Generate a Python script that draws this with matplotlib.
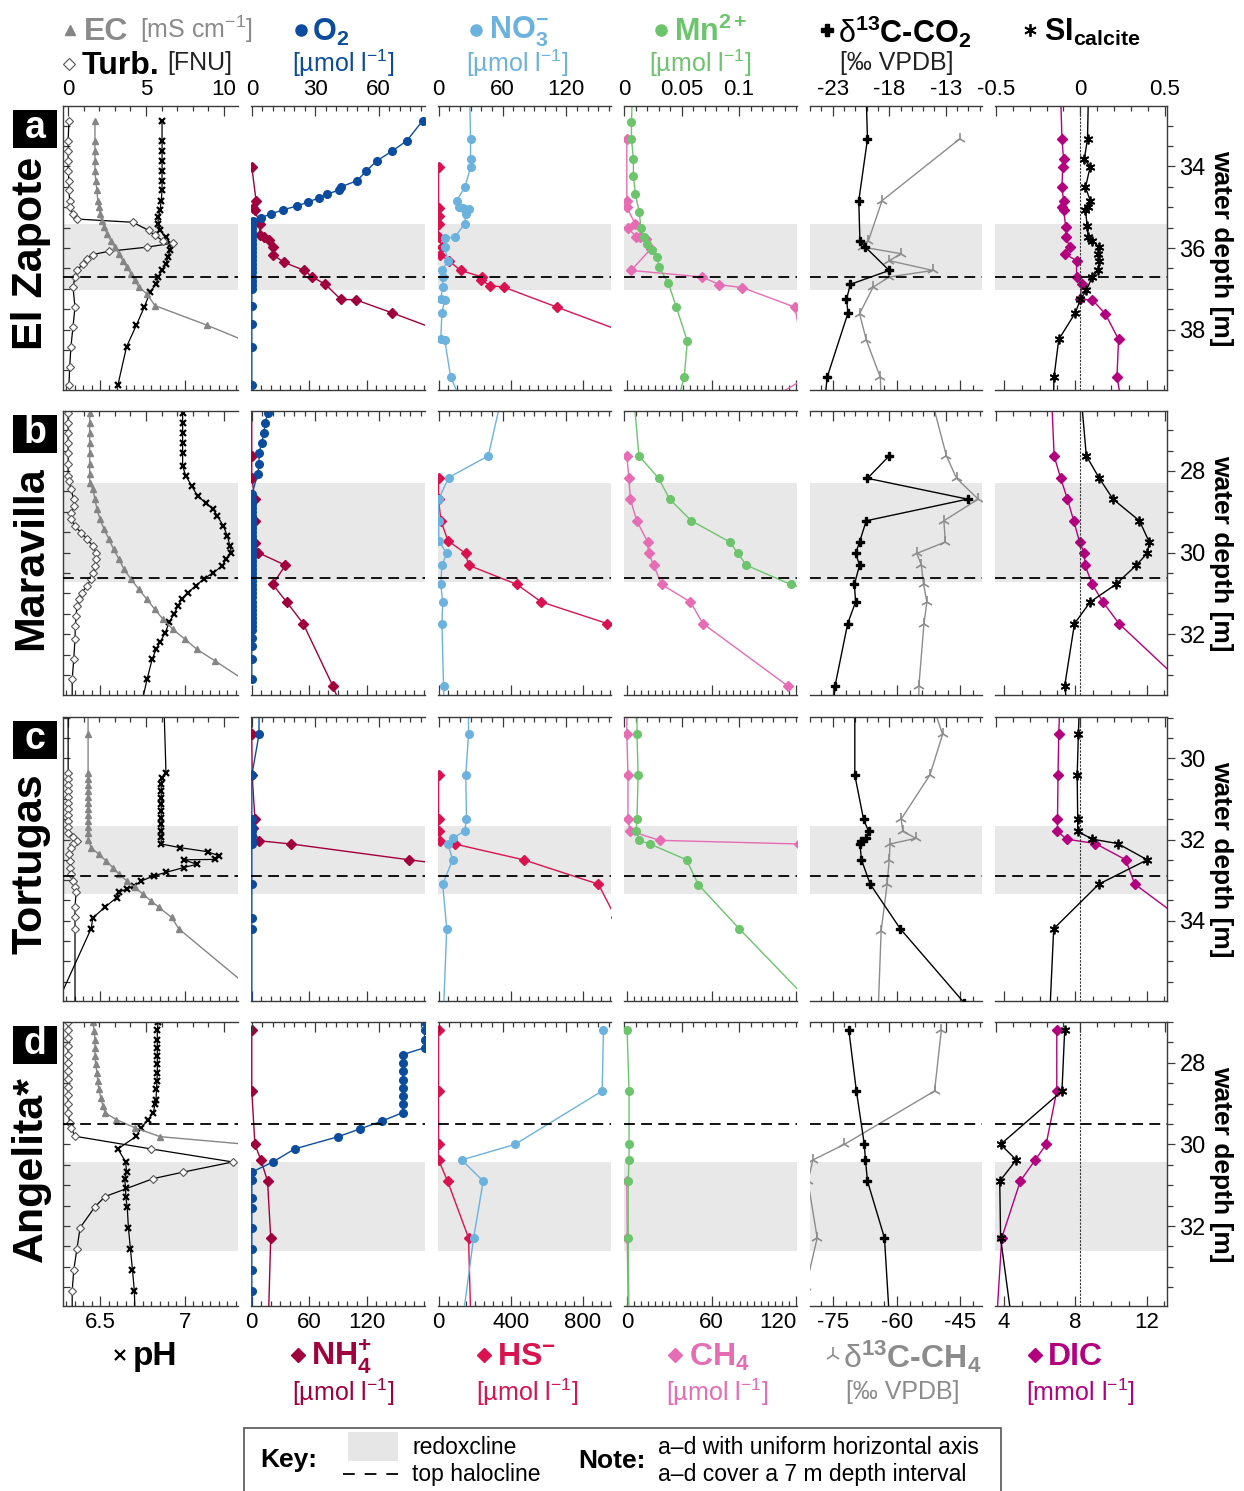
import matplotlib
matplotlib.use("Agg")
import matplotlib.pyplot as plt
from matplotlib.lines import Line2D
from matplotlib.patches import Rectangle
from matplotlib.ticker import MultipleLocator, FixedLocator, FuncFormatter

plt.rcParams['font.family'] = ['Liberation Sans', 'DejaVu Sans']
plt.rcParams['mathtext.fontset'] = 'custom'
plt.rcParams['mathtext.rm'] = 'Liberation Sans'
plt.rcParams['mathtext.bf'] = 'Liberation Sans:bold'
plt.rcParams['mathtext.it'] = 'Liberation Sans:italic'
plt.rcParams['axes.unicode_minus'] = False

W, H = 1244, 1491

# ---------------- data: (depth [m], value) ----------------
# a) El Zapote
a_turb = [(32.88,0.05),(33.37,0),(33.62,0),(33.86,0),(34.11,0),(34.35,0.05),(34.59,0.05),(34.84,0.1),(35.0,0.1),
          (35.16,0.31),(35.29,0.56),(35.37,4.15),(35.57,5.18),(35.69,5.56),(35.82,6.08),(35.88,6.72),(35.98,5.05),
          (36.08,2.62),(36.16,1.59),(36.26,1.2),(36.39,0.95),(36.55,0.56),(36.71,0.44),(36.96,0.31),(37.45,0.44),
          (37.93,0.31),(38.42,0.18),(38.91,0.1),(39.36,0.05)]
a_ec = [(32.88,1.72),(33.37,1.72),(33.62,1.72),(33.86,1.72),(34.11,1.72),(34.35,1.77),(34.59,1.85),(34.84,1.9),
        (35.0,1.97),(35.16,2.05),(35.33,2.15),(35.49,2.31),(35.65,2.49),(35.82,2.74),(35.98,3.0),(36.14,3.26),
        (36.31,3.51),(36.47,3.77),(36.63,4.03),(36.79,4.28),(36.96,4.54),(37.12,5.05),(37.41,5.56),(37.89,8.9),(38.3,11.5)]
a_ph = [(32.88,6.865),(33.37,6.865),(33.62,6.865),(33.86,6.865),(34.11,6.865),(34.35,6.865),(34.59,6.865),(34.84,6.86),
        (35.08,6.853),(35.25,6.842),(35.41,6.842),(35.57,6.853),(35.74,6.888),(35.9,6.916),(36.06,6.912),(36.22,6.9),
        (36.39,6.888),(36.55,6.865),(36.71,6.842),(36.88,6.83),(37.08,6.795),(37.45,6.76),(37.89,6.714),(38.42,6.656),(39.36,6.605)]
a_o2 = [(32.88,80.9),(33.37,73.4),(33.62,66.6),(33.86,59.3),(34.12,54.0),(34.35,49.9),(34.5,42.2),(34.58,41.1),(34.68,35.8),
        (34.77,31.7),(34.88,26.5),(34.97,21.2),(35.07,14.6),(35.16,9.2),(35.26,4.3),(35.34,0.6),(35.4,0),(35.5,0),(35.6,0),
        (35.7,0),(35.8,0),(35.9,0),(36.0,0),(36.1,0),(36.2,0),(36.3,0),(36.4,0),(36.5,0),(36.6,0),(36.7,0),(36.8,0),(36.9,0),
        (37.0,0),(37.41,0),(37.87,0),(38.42,0),(39.36,0)]
a_nh4 = [(34.01,0),(34.84,4.5),(35.02,1.2),(35.08,3.3),(35.41,8.3),(35.69,8.3),(35.74,12.8),(35.8,17.8),(35.98,22.7),
         (36.16,21.9),(36.35,33.5),(36.55,55),(36.71,63.2),(36.89,76.9),(37.26,93),(37.27,108.7),(37.59,146.7),(38.2,216)]
a_no3 = [(32.2,29.0),(33.33,29.9),(33.82,29.9),(34.02,29.9),(34.51,24.6),(34.84,16.8),(35.0,18.7),(35.02,22.4),(35.04,28.0),
         (35.16,25.4),(35.41,24.3),(35.74,14.9),(35.75,5.6),(35.98,5.6),(36.31,8.6),(36.55,3.0),(36.71,3.7),(36.96,3.7),
         (37.26,1.9),(37.27,5.6),(37.59,3.0),(38.24,1.9),(38.25,5.6),(39.16,11.2),(39.8,22)]
a_hs = [(34.01,0),(35.02,0),(35.21,0),(35.41,0),(35.74,0),(35.98,19.6),(36.16,6.5),(36.31,56.6),(36.55,122),(36.71,242),
        (36.79,237),(36.92,285),(36.96,362),(37.45,656),(38.42,1244)]
a_mn = [(32.3,0.0069),(32.92,0.0062),(33.33,0.0062),(33.82,0.0079),(34.23,0.0079),(34.68,0.0096),(35.12,0.013),(35.51,0.0144),
        (35.74,0.0172),(35.9,0.0199),(36.06,0.024),(36.22,0.0285),(36.47,0.0302),(36.86,0.0384),(37.45,0.0453),(38.28,0.0549),
        (39.16,0.0522),(39.8,0.046)]
a_ch4 = [(33.33,0),(34.84,0),(35.0,0),(35.41,5.9),(35.51,1.0),(35.72,6.4),(35.74,9.2),(35.78,13.4),(36.02,17.0),(36.55,3.1),
         (36.71,53.4),(36.9,65.6),(36.97,81.8),(37.45,119),(39.16,128),(39.73,100)]
a_co2 = [(32.3,-20.03),(33.33,-19.92),(34.84,-20.69),(35.82,-20.59),(35.98,-20.1),(36.55,-18.0),(36.89,-21.43),(37.26,-21.78),
         (37.59,-21.64),(39.17,-23.49),(39.8,-23.7)]
a_dch4 = [(33.33,-45.2),(34.84,-63.5),(35.82,-66.7),(35.98,-67.9),(36.14,-59.0),(36.31,-61.8),(36.55,-51.5),(36.71,-61.8),
          (36.96,-65.6),(37.61,-68.8),(38.26,-67.2),(39.17,-63.9),(39.8,-63.7)]
a_si = [(32.3,0.047),(33.33,0.042),(33.82,0.023),(34.01,0.058),(34.51,0.03),(34.84,0.058),(35.0,0.042),(35.08,0.03),(35.45,0.04),
        (35.74,0.047),(35.82,0.07),(35.98,0.112),(36.14,0.105),(36.31,0.112),(36.55,0.105),(36.71,0.07),(37.04,0.035),(37.26,0.0),
        (37.59,-0.03),(38.24,-0.128),(39.16,-0.156),(39.8,-0.16)]
a_dic = [(32.3,7.18),(33.33,7.25),(33.82,7.34),(34.01,7.29),(34.51,7.25),(34.84,7.34),(35.0,7.25),(35.08,7.34),(35.49,7.47),
         (35.74,7.47),(35.98,7.69),(36.14,7.4),(36.31,8.07),(36.71,8.07),(36.88,8.35),(37.26,8.29),(37.27,8.95),(37.61,9.68),
         (38.24,10.43),(39.16,10.34),(39.8,10.6)]

# b) Maravilla
b_turb = [(26.57,0),(26.82,0),(27.06,0),(27.31,0),(27.55,0),(27.84,0),(28.12,0),(28.24,0.05),(28.45,0.18),(28.69,0.36),
          (28.86,0.36),(29.02,0.18),(29.18,0.18),(29.35,0.44),(29.51,0.82),(29.67,1.21),(29.84,1.59),(30.0,1.79),(30.16,1.79),
          (30.33,1.72),(30.49,1.59),(30.65,1.46),(30.82,1.21),(30.98,0.87),(31.14,0.69),(31.31,0.56),(31.55,0.51),(31.8,0.46),
          (32.12,0.44),(32.61,0.36),(33.1,0.26),(33.7,0.26)]
b_ec = [(26.57,1.38),(26.82,1.38),(27.06,1.38),(27.31,1.38),(27.55,1.38),(27.84,1.38),(28.08,1.38),(28.29,1.38),(28.45,1.59),
        (28.69,1.72),(28.94,1.85),(29.18,2.05),(29.43,2.31),(29.67,2.62),(29.92,2.92),(30.16,3.26),(30.41,3.59),(30.65,4.03),
        (30.9,4.54),(31.14,5.05),(31.39,5.56),(31.63,6.08),(31.88,6.72),(32.12,7.49),(32.37,8.26),(32.65,9.41),(33.3,12.0)]
b_ph = [(26.57,6.986),(26.82,6.986),(27.06,6.986),(27.31,6.986),(27.55,6.986),(27.88,6.986),(28.12,7.005),(28.37,7.04),
        (28.61,7.074),(28.78,7.121),(28.94,7.167),(29.1,7.19),(29.35,7.226),(29.59,7.249),(29.84,7.265),(30.0,7.272),
        (30.16,7.242),(30.33,7.219),(30.49,7.167),(30.65,7.109),(30.82,7.063),(30.98,7.016),(31.14,6.981),(31.31,6.958),
        (31.51,6.935),(31.71,6.907),(31.96,6.884),(32.2,6.853),(32.37,6.83),(32.61,6.807),(33.1,6.777),(33.7,6.745)]
b_o2 = [(26.57,7.7),(26.82,6.2),(27.06,5.8),(27.31,4.7),(27.55,3.4),(27.84,3.4),(28.08,2.8),(28.57,0),(28.7,0),(28.8,0),
        (28.9,0),(29.0,0),(29.1,0),(29.2,0),(29.3,0),(29.4,0),(29.5,0),(29.6,0),(29.7,0),(29.8,0),(29.9,0),(30.0,0),(30.1,0),
        (30.2,0),(30.3,0),(30.4,0),(30.5,0),(30.6,0),(30.7,0),(30.8,0),(30.9,0),(31.0,0),(31.1,0),(31.2,0),(31.3,0),(31.4,0),
        (31.5,0),(31.6,0),(31.7,0),(31.8,0),(31.9,0),(32.1,0),(32.3,0),(32.6,0),(33.1,0)]
b_nh4 = [(26.3,0),(27.63,0),(28.16,0),(28.69,3.3),(29.22,3.3),(29.76,3.3),(30.0,6.6),(30.31,35.1),(30.78,21.9),(31.21,36.4),
         (31.74,53.7),(33.27,84.7),(33.7,92)]
b_no3 = [(26.2,59),(27.63,46.6),(28.16,9.3),(28.69,0),(29.22,0),(29.71,0),(30.02,7.5),(30.31,3.0),(30.78,1.9),(31.21,3.7),
         (31.74,3.0),(33.27,4.5),(33.7,5.0)]
b_hs = [(28.16,0),(28.69,0),(29.22,13),(29.71,52),(30.02,150),(30.31,166),(30.78,434),(31.21,569),(31.74,935)]
b_mn = [(26.2,0.0083),(27.63,0.0127),(28.18,0.0299),(28.69,0.0395),(29.22,0.0584),(29.74,0.092),(30.02,0.0989),(30.31,0.1064),
        (30.78,0.1449),(30.9,0.16)]
b_ch4 = [(27.63,0),(28.18,1.5),(28.69,2.5),(29.22,7.0),(29.74,14.8),(30.02,15.4),(30.31,19.0),(30.78,24.6),(31.21,45.0),
         (31.74,53.9),(33.27,114)]
b_co2 = [(27.63,-18.0),(28.18,-19.92),(28.69,-11.08),(29.22,-20.03),(29.74,-20.62),(30.02,-20.97),(30.31,-20.62),(30.78,-21.08),
         (31.21,-20.97),(31.74,-21.67),(33.27,-22.79),(33.7,-22.9)]
b_dch4 = [(26.24,-51.8),(27.63,-48.3),(28.18,-45.9),(28.69,-40.8),(29.22,-48.9),(29.74,-48.55),(30.02,-55.3),(30.31,-54.2),
          (30.78,-53.7),(31.21,-52.9),(31.74,-53.6),(33.27,-54.8),(33.7,-54.8)]
b_si = [(26.2,0.005),(27.63,0.035),(28.18,0.112),(28.69,0.193),(29.22,0.349),(29.74,0.407),(30.02,0.395),(30.31,0.33),
        (30.78,0.209),(31.21,0.058),(31.74,-0.035),(33.27,-0.093),(33.7,-0.08)]
b_dic = [(26.2,6.67),(27.63,6.81),(28.18,7.18),(28.69,7.56),(29.22,7.91),(29.74,8.24),(30.02,8.51),(30.31,8.55),(30.78,8.95),
         (31.21,9.55),(31.74,10.45),(33.4,14.5)]

# c) Tortugas
c_turb = [(28.8,0),(30.35,0),(30.5,0),(30.65,0),(30.8,0),(30.95,0),(31.1,0),(31.25,0),(31.4,0),(31.55,0),(31.7,0),(31.85,0),
          (31.95,0.3),(32.03,0.56),(32.11,0.3),(32.2,0.18),(32.36,0.05),(32.52,0.1),(32.69,0.1),(32.85,0.18),(33.02,0.31),
          (33.18,0.44),(33.3,0.51),(33.67,0.44),(33.92,0.44),(34.2,0.44),(36.2,0.44)]
c_ec = [(28.8,1.28),(29.41,1.28),(30.35,1.28),(30.5,1.28),(30.65,1.28),(30.8,1.28),(30.95,1.28),(31.1,1.28),(31.25,1.28),
        (31.4,1.28),(31.55,1.28),(31.7,1.28),(31.85,1.28),(32.0,1.3),(32.2,1.46),(32.36,1.97),(32.52,2.41),(32.69,2.87),
        (32.85,3.26),(33.02,3.77),(33.18,4.28),(33.34,4.79),(33.51,5.31),(33.67,5.82),(33.92,6.64),(34.2,7.1),(35.7,11.8)]
c_ph = [(28.8,6.877),(30.35,6.888),(30.48,6.865),(30.64,6.86),(30.8,6.86),(30.97,6.86),(31.13,6.86),(31.3,6.86),(31.46,6.86),
        (31.62,6.86),(31.79,6.86),(31.95,6.86),(32.11,6.86),(32.2,6.97),(32.3,7.133),(32.4,7.198),(32.49,7.179),(32.5,6.993),
        (32.61,7.07),(32.69,6.993),(32.81,6.888),(32.89,6.819),(33.02,6.744),(33.14,6.702),(33.22,6.656),(33.3,6.609),
        (33.43,6.598),(33.67,6.528),(33.93,6.458),(34.2,6.447),(36.2,6.23)]
c_o2 = [(28.8,3.4),(29.41,3.4),(30.41,0),(31.5,0),(31.69,0),(31.8,0),(31.91,0),(32.03,0),(32.11,0),(33.1,0),(33.93,0),(34.2,0),(36.2,0)]
c_nh4 = [(28.8,0),(29.41,0),(30.41,0.4),(31.5,3.3),(31.72,1.2),(32.03,7.4),(32.11,41.3),(32.5,164.5),(32.65,215)]
c_no3 = [(28.8,28),(29.41,28),(30.41,25.4),(31.5,26.1),(31.79,24.3),(31.97,13.1),(32.11,8.6),(32.5,13.1),(33.1,3.7),(34.2,7.5),(36.2,4.5)]
c_hs = [(30.41,0),(31.5,0),(31.79,0),(32.03,6.5),(32.11,89),(32.5,471),(33.1,885),(33.92,980)]
c_mn = [(28.8,0.011),(29.39,0.011),(30.41,0.012),(31.5,0.011),(31.79,0.0103),(32.02,0.013),(32.11,0.0223),(32.5,0.0542),
        (33.11,0.0645),(34.2,0.1002),(36.1,0.165)]
c_ch4 = [(28.8,0),(29.39,0),(30.41,0.8),(31.5,0.8),(31.79,2.2),(32.02,23.2),(32.11,122)]
c_co2 = [(28.8,-21.04),(30.41,-21.04),(31.5,-20.27),(31.8,-19.82),(31.97,-20.03),(32.03,-20.45),(32.11,-20.59),(32.5,-20.45),
         (33.1,-19.68),(34.2,-17.02),(36.03,-11.36)]
c_dch4 = [(28.6,-51.8),(29.41,-49.2),(30.41,-52.2),(31.5,-59.0),(31.8,-58.55),(31.97,-55.5),(32.11,-61.6),(32.5,-61.8),
          (33.1,-62.3),(34.25,-63.7),(36.2,-64.4)]
c_si = [(28.8,-0.007),(29.41,-0.012),(30.41,-0.019),(31.5,-0.016),(31.8,-0.016),(31.99,0.07),(32.1,0.221),(32.5,0.395),
        (33.1,0.109),(34.2,-0.158),(36.2,-0.18)]
c_dic = [(28.8,7.12),(29.41,7.07),(30.41,7.03),(31.5,7.0),(31.8,7.0),(31.99,7.51),(32.1,9.13),(32.5,10.83),(33.1,11.34),(34.0,14.1)]

# d) Angelita*
d_turb = [(27.0,0),(27.2,0),(27.4,0),(27.6,0),(27.8,0),(28.0,0),(28.2,0),(28.4,0),(28.6,0),(28.8,0),(29.0,0),(29.22,0),
          (29.47,0.1),(29.59,0.18),(29.8,0.44),(30.11,5.31),(30.43,10.56),(30.68,7.36),(30.84,5.44),(31.28,2.36),(31.53,1.72),
          (32.04,0.77),(32.57,0.56),(33.08,0.36),(33.59,0.26),(34.2,0.26)]
d_ec = [(27.0,1.59),(27.22,1.67),(27.43,1.72),(27.63,1.72),(27.84,1.72),(28.04,1.77),(28.24,1.85),(28.45,1.9),(28.65,1.97),
        (28.86,2.1),(29.06,2.23),(29.22,2.36),(29.39,3.08),(29.59,4.28),(29.81,5.9),(30.05,13.0)]
d_ph = [(27.0,6.842),(27.2,6.837),(27.43,6.837),(27.63,6.837),(27.84,6.837),(28.04,6.837),(28.24,6.837),(28.45,6.835),
        (28.65,6.832),(28.9,6.83),(29.02,6.823),(29.22,6.814),(29.39,6.784),(29.59,6.742),(29.8,6.714),(30.11,6.605),
        (30.43,6.651),(30.68,6.656),(30.84,6.644),(31.06,6.651),(31.28,6.651),(31.53,6.66),(32.04,6.667),(32.57,6.679),
        (33.08,6.691),(33.59,6.702),(34.2,6.706)]
d_o2 = [(27.0,81.8),(27.2,81.8),(27.43,81.8),(27.63,81.8),(27.8,71.5),(28.0,71.5),(28.2,71.5),(28.41,71.5),(28.61,71.5),
        (28.82,71.5),(29.02,71.5),(29.22,71.5),(29.43,61.5),(29.62,51.2),(29.81,40.9),(30.11,20.3),(30.43,9.9),(30.68,0),
        (30.86,0),(31.31,0),(31.55,0),(32.04,0),(32.57,0),(33.08,0),(33.59,0),(34.2,0)]
d_nh4 = [(27.2,0),(28.69,0),(30.0,3.3),(30.38,9.5),(30.9,16.5),(32.29,19.8),(34.2,17.5)]
d_no3 = [(27.2,154.9),(28.69,153.7),(30.0,71.6),(30.38,21.6),(30.9,41.8),(32.29,32.8),(34.2,23)]
d_hs = [(27.2,0),(28.69,0),(30.0,0),(30.38,0),(30.9,50),(32.29,166),(34.2,178)]
d_mn = [(27.2,0.0024),(28.69,0.0041),(30.0,0.0041),(30.38,0.0041),(30.9,0.0034),(32.29,0.0034),(34.2,0.004)]
d_ch4 = [(30.9,0),(32.29,0.3),(34.2,1.0)]
d_co2 = [(27.2,-21.57),(28.69,-20.9),(30.0,-20.2),(30.38,-20.1),(30.9,-19.92),(32.29,-18.42),(34.2,-18.0)]
d_dch4 = [(27.2,-49.5),(28.69,-51.1),(30.0,-72.4),(30.38,-79.8),(30.9,-81.0),(32.29,-78.8),(33.5,-81.5)]
d_si = [(27.2,-0.093),(28.69,-0.109),(30.0,-0.472),(30.38,-0.379),(30.9,-0.477),(32.29,-0.472),(34.2,-0.41)]
d_dic = [(27.2,6.96),(28.69,6.96),(30.0,6.36),(30.38,5.75),(30.9,4.91),(32.29,3.87),(34.2,3.6)]

sites = ["El Zapote", "Maravilla", "Tortugas", "Angelita*"]
letters = ["a", "b", "c", "d"]
depth_lims = [(39.48, 32.52), (33.49, 26.53), (35.98, 28.98), (33.96, 27.0)]
redoxcline = [(35.42, 37.04), (28.29, 30.72), (31.66, 33.34), (30.42, 32.61)]
halocline = [36.70, 30.63, 32.89, 29.49]

# ---------------- styles ----------------
C_O2, C_NO3, C_MN = '#0b4c9f', '#6cb2df', '#6cc46c'
C_NH4, C_HS, C_CH4, C_DIC = '#a0003c', '#d8134f', '#e66cb3', '#b3007e'
C_EC, C_DCH4 = '#858585', '#8c8c8c'

styles = {
    'turb': dict(color='black', marker='D', ms=3.6, mfc='white', mec='#555555', mew=0.8, lw=0.9),
    'ec': dict(color=C_EC, marker='^', ms=4.5, lw=1.0),
    'ph': dict(color='black', marker='x', ms=4.5, mew=1.6, lw=0.9),
    'o2': dict(color=C_O2, marker='o', ms=5.5, lw=1.0),
    'nh4': dict(color=C_NH4, marker='D', ms=5, lw=1.0),
    'no3': dict(color=C_NO3, marker='o', ms=5.5, lw=1.0),
    'hs': dict(color=C_HS, marker='D', ms=5, lw=1.0),
    'mn': dict(color=C_MN, marker='o', ms=5.5, lw=1.0),
    'ch4': dict(color=C_CH4, marker='D', ms=5, lw=1.0),
    'co2': dict(color='black', marker='P', ms=6, lw=1.0),
    'dch4': dict(color=C_DCH4, marker='2', ms=9, mew=1.2, lw=1.0),
    'si': dict(color='black', marker=(6, 2, 0), ms=7, mew=1.3, lw=1.0),
    'dic': dict(color=C_DIC, marker='D', ms=5, lw=1.0),
}

data = [
    dict(turb=a_turb, ec=a_ec, ph=a_ph, o2=a_o2, nh4=a_nh4, no3=a_no3, hs=a_hs, mn=a_mn, ch4=a_ch4, co2=a_co2, dch4=a_dch4, si=a_si, dic=a_dic),
    dict(turb=b_turb, ec=b_ec, ph=b_ph, o2=b_o2, nh4=b_nh4, no3=b_no3, hs=b_hs, mn=b_mn, ch4=b_ch4, co2=b_co2, dch4=b_dch4, si=b_si, dic=b_dic),
    dict(turb=c_turb, ec=c_ec, ph=c_ph, o2=c_o2, nh4=c_nh4, no3=c_no3, hs=c_hs, mn=c_mn, ch4=c_ch4, co2=c_co2, dch4=c_dch4, si=c_si, dic=c_dic),
    dict(turb=d_turb, ec=d_ec, ph=d_ph, o2=d_o2, nh4=d_nh4, no3=d_no3, hs=d_hs, mn=d_mn, ch4=d_ch4, co2=d_co2, dch4=d_dch4, si=d_si, dic=d_dic),
]

# column definitions: top scale, bottom scale
columns = [
    dict(x0=63, x1=238, top=['turb', 'ec'], tlim=(-0.33, 10.9), tmaj=[0, 5, 10], tmin=1,
         bot=['ph'], blim=(6.282, 7.312), bmaj=[6.5, 7.0], bmin=0.05),
    dict(x0=251, x1=425, top=['o2'], tlim=(-0.4, 82), tmaj=[0, 30, 60], tmin=5,
         bot=['nh4'], blim=(-0.8, 181), bmaj=[0, 60, 120], bmin=10),
    dict(x0=438, x1=611, top=['no3'], tlim=(-0.7, 162), tmaj=[0, 60, 120], tmin=10,
         bot=['hs'], blim=(-3, 955), bmaj=[0, 400, 800], bmin=50),
    dict(x0=624, x1=797, top=['mn'], tlim=(-0.0003, 0.1505), tmaj=[0, 0.05, 0.1], tmin=0.01,
         bot=['ch4'], blim=(-2, 120.5), bmaj=[0, 60, 120], bmin=5),
    dict(x0=810, x1=982, top=['co2'], tlim=(-25.0, -9.8), tmaj=[-23, -18, -13], tmin=1,
         bot=['dch4'], blim=(-80.5, -39.9), bmaj=[-75, -60, -45], bmin=3),
    dict(x0=995, x1=1167, top=['si'], tlim=(-0.505, 0.512), tmaj=[-0.5, 0, 0.5], tmin=0.1,
         bot=['dic'], blim=(3.49, 13.15), bmaj=[4, 8, 12], bmin=1),
]
row_y = [(106, 390), (411, 695), (717, 1001), (1022, 1306)]

fmt = FuncFormatter(lambda v, p: f"{v:g}")
SPINE = '#3a3a3a'

fig = plt.figure(figsize=(W / 100, H / 100), dpi=100)


def fx(x):
    return x / W


def fy(y):
    return 1 - y / H


def draw(ax, key, pts):
    d = [p[0] for p in pts]
    v = [p[1] for p in pts]
    ax.plot(v, d, **styles[key])


for r in range(4):
    y0, y1 = row_y[r]
    for c, col in enumerate(columns):
        ax = fig.add_axes([fx(col['x0']), fy(y1), (col['x1'] - col['x0']) / W, (y1 - y0) / H])
        ax.set_ylim(*depth_lims[r])
        ax.set_xlim(*col['blim'])
        ax.axhspan(*redoxcline[r], color='#e8e8e8', lw=0, zorder=0)
        for k in col['bot']:
            draw(ax, k, data[r][k])
        axt = ax.twiny()
        axt.set_xlim(*col['tlim'])
        for k in col['top']:
            draw(axt, k, data[r][k])
        axt.axhline(halocline[r], color='black', lw=1.3, dashes=(6, 3.5), zorder=6)
        if c == 5:
            axt.axvline(0, color='#333333', lw=0.8, ls=(0, (2, 1.2)), zorder=1)

        for a in (ax, axt):
            for s in a.spines.values():
                s.set_visible(False)
                s.set_color(SPINE)
                s.set_linewidth(1.0)
        ax.spines['bottom'].set_visible(True)
        axt.spines['top'].set_visible(True)
        if c == 0:
            ax.spines['left'].set_visible(True)
        if c == 5:
            ax.spines['right'].set_visible(True)

        ax.xaxis.set_major_locator(FixedLocator(col['bmaj']))
        ax.xaxis.set_minor_locator(MultipleLocator(col['bmin']))
        ax.xaxis.set_major_formatter(fmt)
        axt.xaxis.set_major_locator(FixedLocator(col['tmaj']))
        axt.xaxis.set_minor_locator(MultipleLocator(col['tmin']))
        axt.xaxis.set_major_formatter(fmt)
        ax.tick_params(axis='x', which='both', direction='in', bottom=True, top=False,
                       labelbottom=(r == 3), color=SPINE, width=0.9, labelsize=16, pad=4)
        ax.tick_params(axis='x', which='major', length=7)
        ax.tick_params(axis='x', which='minor', length=3.5)
        axt.tick_params(axis='x', which='both', direction='in', top=True, bottom=False,
                        labeltop=(r == 0), labelbottom=False, color=SPINE, width=0.9, labelsize=16, pad=4)
        axt.tick_params(axis='x', which='major', length=7)
        axt.tick_params(axis='x', which='minor', length=3.5)
        if r == 3 and c == 3:
            # last label of the CH4 axis sits left of its tick, as in the original
            ax.get_xticklabels()[-1].set_horizontalalignment('right')

        ax.yaxis.set_major_locator(MultipleLocator(2))
        ax.yaxis.set_minor_locator(MultipleLocator(0.5))
        if c == 0:
            ax.tick_params(axis='y', which='both', direction='in', left=True, right=False,
                           labelleft=False, color=SPINE, width=0.9, length=5)
        elif c == 5:
            ax.yaxis.set_major_formatter(fmt)
            ax.tick_params(axis='y', which='both', direction='out', left=False, right=True,
                           labelleft=False, labelright=True, color=SPINE, width=0.9, labelsize=17, pad=3)
            ax.tick_params(axis='y', which='major', length=6)
            ax.tick_params(axis='y', which='minor', length=4)
        else:
            ax.tick_params(axis='y', which='both', left=False, right=False, labelleft=False)

    # site label, letter box, depth label
    ymid = (y0 + y1) / 2
    fig.add_artist(Rectangle((fx(13), fy(y0 + 42)), 44 / W, 38 / H, transform=fig.transFigure,
                             facecolor='black', edgecolor='none'))
    fig.text(fx(35), fy(y0 + 22), letters[r], color='white', fontsize=27, fontweight='bold',
             ha='center', va='center')
    fig.text(fx(31), fy(ymid + 5), sites[r], rotation=90, fontsize=31, fontweight='bold',
             ha='center', va='center')
    fig.text(fx(1221), fy(ymid), "water depth [m]", rotation=270, fontsize=19, fontweight='bold',
             ha='center', va='center')


# ---------------- header / footer labels ----------------
def marker_at(x, y, key, ms=None):
    st = dict(styles[key])
    st.pop('lw', None)
    if ms is not None:
        st['ms'] = ms
    fig.add_artist(Line2D([fx(x)], [fy(y)], transform=fig.transFigure, linestyle='none', **st))


HB = 22   # bold name size
HU = 18   # unit size
T1, T2 = 32, 66

marker_at(70, T1 - 2, 'ec', ms=7)
fig.text(fx(84), fy(T1), "EC", color='#8a8a8a', fontsize=HB + 1, fontweight='bold', va='center')
fig.text(fx(140), fy(T1 - 3), r"[mS cm$^{-1}$]", color='#8a8a8a', fontsize=HU, va='center')
marker_at(69, T2 - 2, 'turb', ms=6.5)
fig.text(fx(82), fy(T2), "Turb.", color='black', fontsize=HB + 1, fontweight='bold', va='center')
fig.text(fx(167), fy(T2 - 3), "[FNU]", color='#222222', fontsize=HU, va='center')

marker_at(301, T1 - 2, 'o2', ms=8)
fig.text(fx(312), fy(T1), r"O$_\mathbf{2}$", color=C_O2, fontsize=HB, fontweight='bold', va='center')
fig.text(fx(343), fy(T2 - 3), r"[µmol l$^{-1}$]", color=C_O2, fontsize=HU, ha='center', va='center')

marker_at(476, T1 - 2, 'no3', ms=8)
fig.text(fx(489), fy(T1), r"NO$_\mathbf{3}^\mathbf{-}$", color=C_NO3, fontsize=HB, fontweight='bold', va='center')
fig.text(fx(517), fy(T2 - 3), r"[µmol l$^{-1}$]", color=C_NO3, fontsize=HU, ha='center', va='center')

marker_at(661, T1 - 2, 'mn', ms=8)
fig.text(fx(674), fy(T1), r"Mn$^\mathbf{2+}$", color=C_MN, fontsize=HB, fontweight='bold', va='center')
fig.text(fx(700), fy(T2 - 3), r"[µmol l$^{-1}$]", color=C_MN, fontsize=HU, ha='center', va='center')

marker_at(827, T1 - 2, 'co2', ms=8)
fig.text(fx(838), fy(T1), r"$\mathrm{\delta}^\mathbf{13}$C-CO$_\mathbf{2}$", color='black', fontsize=HB,
         fontweight='bold', va='center')
fig.text(fx(897), fy(T2 - 3), "[‰ VPDB]", color='#222222', fontsize=HU, ha='center', va='center')

marker_at(1030, T1 - 2, 'si', ms=9)
fig.text(fx(1044), fy(T1), r"SI$_\mathbf{calcite}$", color='black', fontsize=HB, fontweight='bold', va='center')

FY, UY = 1357, 1392
marker_at(120, FY - 2, 'ph', ms=7)
fig.text(fx(133), fy(FY), "pH", color='black', fontsize=HB + 2, fontweight='bold', va='center')

marker_at(298, FY - 2, 'nh4', ms=7)
fig.text(fx(311), fy(FY), r"NH$_\mathbf{4}^\mathbf{+}$", color=C_NH4, fontsize=HB + 1, fontweight='bold', va='center')
fig.text(fx(343), fy(UY), r"[µmol l$^{-1}$]", color=C_NH4, fontsize=HU, ha='center', va='center')

marker_at(484, FY - 2, 'hs', ms=7)
fig.text(fx(497), fy(FY), r"HS$^\mathbf{-}$", color=C_HS, fontsize=HB + 1, fontweight='bold', va='center')
fig.text(fx(527), fy(UY), r"[µmol l$^{-1}$]", color=C_HS, fontsize=HU, ha='center', va='center')

marker_at(675, FY - 2, 'ch4', ms=7)
fig.text(fx(689), fy(FY), r"CH$_\mathbf{4}$", color=C_CH4, fontsize=HB + 1, fontweight='bold', va='center')
fig.text(fx(717), fy(UY), r"[µmol l$^{-1}$]", color=C_CH4, fontsize=HU, ha='center', va='center')

marker_at(833, FY - 2, 'dch4', ms=11)
fig.text(fx(843), fy(FY), r"$\mathrm{\delta}^\mathbf{13}$C-CH$_\mathbf{4}$", color=C_DCH4, fontsize=HB + 1,
         fontweight='bold', va='center')
fig.text(fx(903), fy(UY), "[‰ VPDB]", color=C_DCH4, fontsize=HU, ha='center', va='center')

marker_at(1035, FY - 2, 'dic', ms=7)
fig.text(fx(1048), fy(FY), "DIC", color=C_DIC, fontsize=HB + 1, fontweight='bold', va='center')
fig.text(fx(1080), fy(UY), r"[mmol l$^{-1}$]", color=C_DIC, fontsize=HU, ha='center', va='center')

# ---------------- key box ----------------
fig.add_artist(Rectangle((fx(244), fy(1495)), (1001 - 244) / W, (1495 - 1428) / H, transform=fig.transFigure,
                         facecolor='white', edgecolor='#555555', lw=1.2))
fig.text(fx(260), fy(1460), "Key:", fontsize=19, fontweight='bold', va='center')
fig.add_artist(Rectangle((fx(348), fy(1461)), 50 / W, 29 / H, transform=fig.transFigure,
                         facecolor='#e6e6e6', edgecolor='none'))
fig.text(fx(412), fy(1448), "redoxcline", fontsize=16.5, va='center')
fig.add_artist(Line2D([fx(343), fx(400)], [fy(1474), fy(1474)], transform=fig.transFigure,
                      color='black', lw=1.3, dashes=(6.5, 5.5)))
fig.text(fx(412), fy(1474), "top halocline", fontsize=16.5, va='center')
fig.text(fx(578), fy(1461), "Note:", fontsize=19, fontweight='bold', va='center')
fig.text(fx(658), fy(1448), "a–d with uniform horizontal axis", fontsize=16.5, va='center')
fig.text(fx(658), fy(1474), "a–d cover a 7 m depth interval", fontsize=16.5, va='center')

fig.savefig("out.png", dpi=100)
